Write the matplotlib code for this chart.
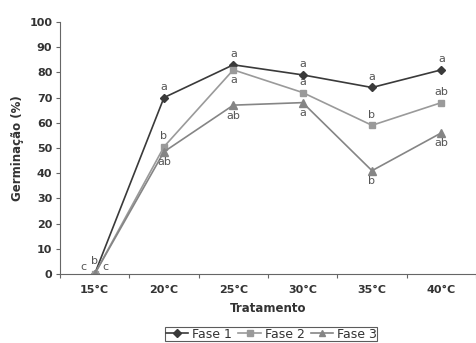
import matplotlib.pyplot as plt

tratamentos = ['15°C', '20°C', '25°C', '30°C', '35°C', '40°C']
fase1 = [0, 70, 83, 79, 74, 81]
fase2 = [0, 50.5, 81, 72, 59, 68]
fase3 = [0, 48.5, 67, 68, 41, 56]

letras1 = ['', 'a', 'a', 'a', 'a', 'a']
letras2 = ['b', 'b', 'a', 'a', 'b', 'ab']
letras3 = ['', 'ab', 'ab', 'a', 'b', 'ab']
# posicao da letra: +1 acima, -1 abaixo
pos1 = [1, 1, 1, 1, 1, 1]
pos2 = [1, 1, -1, 1, 1, 1]
pos3 = [-1, -1, -1, -1, -1, -1]

fig = plt.figure(figsize=(4.76, 3.43), dpi=100)
ax = fig.add_axes([0.126, 0.201, 0.874, 0.735])

x = list(range(len(tratamentos)))
ax.plot(x, fase1, color='#3a3a3a', marker='D', markersize=4.5, lw=1.2, label='Fase 1')
ax.plot(x, fase2, color='#9a9a9a', marker='s', markersize=5, lw=1.2, label='Fase 2')
ax.plot(x, fase3, color='#858585', marker='^', markersize=5.5, lw=1.2, label='Fase 3')

txt = dict(fontsize=8, color='#555555', ha='center')
for serie, letras, pos in [(fase1, letras1, pos1), (fase2, letras2, pos2), (fase3, letras3, pos3)]:
    for i, (v, l, p) in enumerate(zip(serie, letras, pos)):
        if not l:
            continue
        dy = 4
        if i == 0:
            dy = 6
        if p > 0:
            ax.annotate(l, (i, v), xytext=(0, dy), textcoords='offset points', va='bottom', **txt)
        else:
            ax.annotate(l, (i, v), xytext=(0, -dy), textcoords='offset points', va='top', **txt)
ax.annotate('c', (0, 0), xytext=(-8, 1.5), textcoords='offset points', va='bottom', **txt)
ax.annotate('c', (0, 0), xytext=(8, 1.5), textcoords='offset points', va='bottom', **txt)

ax.set_xlim(-0.5, 5.443)
ax.set_ylim(0, 100)
ax.set_yticks(range(0, 101, 10))
ax.set_xticks([i + 0.5 for i in range(-1, 6)], minor=False)
ax.set_xticklabels([])
ax.set_xticks(x, minor=True)
ax.set_xticklabels(tratamentos, minor=True)
ax.tick_params(axis='x', which='minor', length=0, pad=8)
ax.tick_params(axis='x', which='major', length=3, color='#666666')
ax.tick_params(axis='y', length=3, pad=2.5, color='#666666')
for lab in ax.get_xticklabels(minor=True) + ax.get_yticklabels():
    lab.set_fontweight('bold')
    lab.set_fontsize(8)
    lab.set_color('#333333')

for s in ['top', 'right']:
    ax.spines[s].set_visible(False)
for s in ['left', 'bottom']:
    ax.spines[s].set_color('#666666')

ax.set_xlabel('Tratamento', fontsize=8.5, fontweight='bold', color='#333333', labelpad=5)
ax.set_ylabel('Germinação (%)', fontsize=8.5, fontweight='bold', color='#333333', labelpad=4)

leg = fig.legend(loc='upper center', bbox_to_anchor=(0.57, 0.047), ncol=3, fontsize=9,
                 frameon=True, fancybox=False, edgecolor='#333333', handlelength=1.8,
                 columnspacing=0.5, handletextpad=0.3, borderpad=0.05, borderaxespad=0,
                 labelcolor='#333333', markerscale=0.8)
leg.get_frame().set_linewidth(0.8)

fig.savefig('out.png', dpi=100)
